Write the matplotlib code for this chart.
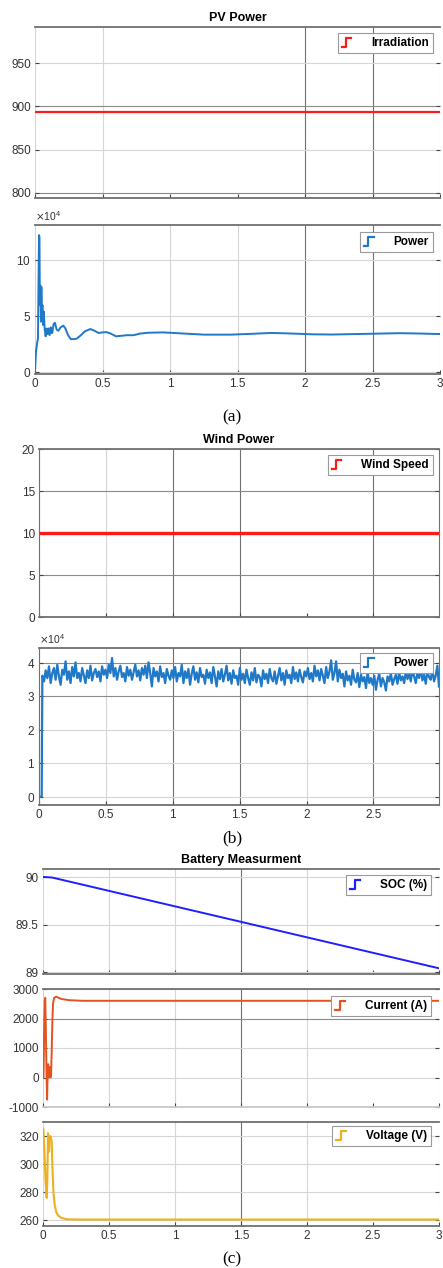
import numpy as np
import matplotlib
matplotlib.use('Agg')
import matplotlib.pyplot as plt
from matplotlib.legend_handler import HandlerBase
from matplotlib.lines import Line2D
from matplotlib.ticker import ScalarFormatter

# ---- data ----
sim_end = 3.0

# (a) PV
irradiation = 894.0
pv_t = [0.0, 0.007, 0.017, 0.022, 0.026, 0.030, 0.033, 0.036, 0.040, 0.044,
        0.047, 0.051, 0.055, 0.060, 0.065, 0.072, 0.079, 0.086, 0.093, 0.100,
        0.108, 0.116, 0.122, 0.128, 0.138, 0.148, 0.160, 0.173, 0.19, 0.21,
        0.225, 0.245, 0.265, 0.29, 0.31, 0.34, 0.37, 0.41, 0.44, 0.47,
        0.50, 0.53, 0.56, 0.60, 0.64, 0.68, 0.73, 0.78, 0.84, 0.95,
        1.1, 1.25, 1.45, 1.6, 1.75, 1.9, 2.05, 2.2, 2.45, 2.7, 2.85, 3.0]
pv_power = [0.0, 1.8, 2.7, 3.0, 8.0, 12.2, 12.0, 6.0, 7.7, 4.5,
            7.6, 5.2, 6.0, 4.2, 5.4, 3.8, 3.2, 3.9, 3.4, 3.9,
            3.3, 4.0, 3.5, 3.5, 4.3, 4.4, 3.8, 3.7, 4.0, 4.15,
            3.9, 3.3, 2.95, 2.95, 3.0, 3.3, 3.65, 3.85, 3.7, 3.5,
            3.55, 3.57, 3.45, 3.2, 3.25, 3.3, 3.3, 3.45, 3.52, 3.55,
            3.45, 3.35, 3.35, 3.42, 3.5, 3.45, 3.38, 3.36, 3.42, 3.48, 3.45, 3.40]  # x1e4 W

# (b) wind
wind_speed = 10.0
wind_start_t = [0.0, 0.02]
wind_start_p = [0.0, 0.0]
wind_power = [
    3.62, 3.45, 3.78, 3.55, 3.90, 3.40, 3.70, 3.85, 3.50, 3.95, 3.60, 3.35, 3.80, 3.65, 4.05, 3.50, 3.75, 3.40, 3.88, 3.60,
    4.02, 3.55, 3.70, 3.45, 3.85, 3.62, 3.40, 3.78, 3.55, 3.92, 3.48, 3.70, 3.82, 3.58, 3.75, 3.45, 3.90, 3.65, 3.80, 3.55,
    3.95, 3.70, 4.15, 3.60, 3.85, 3.50, 3.75, 3.92, 3.58, 3.70, 3.45, 3.88, 3.62, 3.80, 3.50, 3.72, 3.95, 3.60, 3.78, 3.48,
    3.85, 3.65, 3.92, 3.55, 4.02, 3.70, 3.30, 3.85, 3.60, 3.75, 3.45, 3.90, 3.58, 3.70, 3.40, 3.82, 3.62, 3.50, 3.78, 3.55,
    3.88, 3.45, 3.70, 3.60, 3.95, 3.40, 3.75, 3.55, 3.82, 3.35, 3.68, 3.90, 3.50, 3.72, 3.42, 3.85, 3.58, 3.65, 3.38, 3.80,
    3.55, 3.72, 3.40, 3.88, 3.60, 3.30, 3.75, 3.52, 3.82, 3.45, 3.65, 3.92, 3.48, 3.70, 3.38, 3.78, 3.55, 3.62, 3.35, 3.85,
    3.50, 3.68, 3.40, 3.80, 3.55, 3.35, 3.72, 3.48, 3.85, 3.42, 3.65, 3.58, 3.30, 3.78, 3.52, 3.68, 3.40, 3.82, 3.55, 3.45,
    3.75, 3.38, 3.62, 3.85, 3.48, 3.70, 3.35, 3.78, 3.55, 3.65, 3.40, 3.88, 3.52, 3.72, 3.45, 3.80, 3.58, 3.42, 3.75, 3.60,
    3.85, 3.52, 3.70, 3.45, 3.92, 3.60, 3.78, 3.48, 3.82, 3.62, 3.40, 3.88, 3.55, 3.75, 4.08, 3.50, 3.70, 4.05, 3.45, 3.80,
    3.55, 3.68, 3.30, 3.75, 3.48, 3.62, 3.35, 3.80, 3.50, 3.42, 3.70, 3.28, 3.65, 3.45, 3.58, 3.25, 3.72, 3.40, 3.55, 3.35,
    3.62, 3.20, 3.50, 3.68, 3.30, 3.55, 3.42, 3.18, 3.60, 3.45, 3.70, 3.35, 3.52, 3.65, 3.38, 3.72, 3.48, 3.60, 3.40, 3.75,
    3.52, 3.68, 3.45, 3.78, 3.60, 3.40, 3.72, 3.55, 3.82, 3.48, 3.65, 3.38, 3.75, 3.58, 3.50, 3.80, 3.45, 3.62, 3.92, 3.30]  # x1e4 W
wind_t = np.linspace(0.025, 2.99, len(wind_power))

# (c) battery
soc_t = [0.0, 0.02, 0.07, 3.0]
soc = [90.0, 90.0, 89.995, 89.04]
cur_t = [0.0, 0.004, 0.008, 0.013, 0.017, 0.021, 0.026, 0.031, 0.035, 0.039, 0.044, 0.048,
         0.052, 0.057, 0.061, 0.066, 0.071, 0.076, 0.084, 0.10, 0.14, 0.2, 0.3, 3.0]
current = [0, 0, 1400, 2600, 2700, 1800, 300, -750, 100, 450, 0, 300,
           350, 0, 50, 900, 1900, 2500, 2700, 2740, 2660, 2620, 2600, 2600]
volt_t = [0.0, 0.003, 0.010, 0.020, 0.028, 0.033, 0.038, 0.042, 0.046, 0.050, 0.055,
          0.060, 0.066, 0.071, 0.079, 0.089, 0.100, 0.115, 0.14, 0.18, 0.25, 3.0]
voltage = [325, 325, 311, 287, 276, 290, 322, 318, 309, 318, 320,
           319, 316, 299, 280, 270.7, 266, 263.5, 261.7, 260.8, 260.6, 260.6]

x_ticks = [0, 0.5, 1, 1.5, 2, 2.5, 3]

plt.rcParams['font.family'] = ['Liberation Sans', 'DejaVu Sans']
plt.rcParams['axes.unicode_minus'] = False

W, H = 443, 1268
fig = plt.figure(figsize=(W / 100, H / 100), dpi=100)


def axes_at(left, top, right, bottom):
    return fig.add_axes([left / W, 1 - bottom / H, (right - left) / W, (bottom - top) / H])


class StepHandler(HandlerBase):
    # scope-style legend icon: a little rising step
    def create_artists(self, legend, orig, xd, yd, w, h, fontsize, trans):
        xs = [xd, xd + 0.45 * w, xd + 0.45 * w, xd + w]
        ys = [yd - 0.05 * h, yd - 0.05 * h, yd + 1.0 * h, yd + 1.0 * h]
        ln = Line2D(xs, ys, color=orig.get_color(), lw=1.6)
        ln.set_transform(trans)
        return [ln]


def style(ax, box=False, dark_x=(), hide_x=(), dark_y=()):
    ax.set_facecolor('white')
    ax.grid(True, color='#d6d6d6', lw=0.8)
    ax.set_axisbelow(True)
    for xv, gl in zip(ax.get_xticks(), ax.xaxis.get_gridlines()):
        if xv in dark_x:
            gl.set_color('#707070')
        if xv in hide_x:
            gl.set_visible(False)
    for yv, gl in zip(ax.get_yticks(), ax.yaxis.get_gridlines()):
        if yv in dark_y:
            gl.set_color('#8a8a8a')
    for side in ['top', 'bottom']:
        ax.spines[side].set_color('#707070')
        ax.spines[side].set_linewidth(1.3)
    for side in ['left', 'right']:
        ax.spines[side].set_visible(box)
        ax.spines[side].set_color('#707070')
    ax.tick_params(direction='in', length=3, labelsize=8.5, colors='#444444',
                   labelcolor='#333333', right=True, pad=3)


def add_legend(ax, label, xa, ya):
    leg = ax.legend([ax.lines[0]], [label], loc='upper right', bbox_to_anchor=(xa, ya),
                    borderaxespad=0, handler_map={Line2D: StepHandler()},
                    prop={'weight': 'bold', 'size': 8.5}, handlelength=0.8, handletextpad=1.7,
                    borderpad=0.35, fancybox=False, framealpha=1, edgecolor='#9a9a9a')
    leg.get_frame().set_linewidth(0.8)


def sci_axis(ax):
    fmt = ScalarFormatter(useMathText=True)
    fmt.set_powerlimits((4, 4))
    ax.yaxis.set_major_formatter(fmt)
    ax.yaxis.get_offset_text().set_fontsize(7.5)
    ax.yaxis.get_offset_text().set_color('#333333')


# ---------- (a) PV Power ----------
ax1 = axes_at(35, 27, 440, 198)
ax1.plot([0, sim_end], [irradiation, irradiation], color='#ff1a1a', lw=1.6)
ax1.set_xlim(0, 3)
ax1.set_ylim(794, 992)
ax1.set_yticks([800, 850, 900, 950])
ax1.set_xticks(x_ticks)
ax1.set_xticklabels([])
style(ax1, dark_x=(2, 2.5), hide_x=(1, 1.5), dark_y=(800, 900))
ax1.set_title('PV Power', fontsize=9, fontweight='bold', pad=4)
add_legend(ax1, 'Irradiation', 0.983, 0.965)

ax2 = axes_at(35, 225, 440, 374)
ax2.plot(pv_t, np.array(pv_power) * 1e4, color='#1f78c8', lw=1.4)
ax2.set_xlim(0, 3)
ax2.set_ylim(-0.15e4, 13.1e4)
ax2.set_yticks([0, 5e4, 10e4])
ax2.set_xticks(x_ticks)
ax2.set_xticklabels(['0', '0.5', '1', '1.5', '2', '2.5', '3'])
style(ax2, dark_x=(2, 2.5))
sci_axis(ax2)
add_legend(ax2, 'Power', 0.983, 0.953)
fig.text(232 / W, 1 - 417 / H, '(a)', ha='center', va='center', fontsize=12.5,
         family=['Liberation Serif', 'DejaVu Serif'])

# ---------- (b) Wind Power ----------
ax3 = axes_at(39, 449, 439, 617)
ax3.plot([0, sim_end], [wind_speed, wind_speed], color='#ff1a1a', lw=2.4)
ax3.set_xlim(0, 2.99)
ax3.set_ylim(0, 20)
ax3.set_yticks([0, 5, 10, 15, 20])
ax3.set_xticks(x_ticks[:-1])
ax3.set_xticklabels([])
style(ax3, box=True, dark_x=(1, 1.5, 2.5), hide_x=(2,), dark_y=(5, 15))
ax3.set_title('Wind Power', fontsize=9, fontweight='bold', pad=4)
add_legend(ax3, 'Wind Speed', 0.985, 0.964)

ax4 = axes_at(39, 648, 439, 805)
ax4.plot(np.concatenate([wind_start_t, wind_t]),
         np.concatenate([wind_start_p, wind_power]) * 1e4, color='#1f78c8', lw=1.6)
ax4.set_xlim(0, 2.99)
ax4.set_ylim(-0.25e4, 4.45e4)
ax4.set_yticks([0, 1e4, 2e4, 3e4, 4e4])
ax4.set_xticks(x_ticks[:-1])
ax4.set_xticklabels(['0', '0.5', '1', '1.5', '2', '2.5'])
style(ax4, box=True, dark_x=(1, 1.5, 2.5), dark_y=(3e4, 4e4))
sci_axis(ax4)
add_legend(ax4, 'Power', 0.985, 0.968)
fig.text(232 / W, 1 - 838 / H, '(b)', ha='center', va='center', fontsize=12.5,
         family=['Liberation Serif', 'DejaVu Serif'])

# ---------- (c) Battery ----------
ax5 = axes_at(43, 869, 439, 974)
ax5.plot(soc_t, soc, color='#1f1fff', lw=1.4)
ax5.set_xlim(0, 3)
ax5.set_ylim(88.98, 90.085)
ax5.set_yticks([89, 89.5, 90])
ax5.set_yticklabels(['89', '89.5', '90'])
ax5.set_xticks(x_ticks)
ax5.set_xticklabels([])
style(ax5, dark_x=(1.5,), hide_x=(2.5,))
ax5.set_title('Battery Measurment', fontsize=9, fontweight='bold', pad=4)
add_legend(ax5, 'SOC (%)', 0.98, 0.943)

ax6 = axes_at(43, 989, 439, 1107)
ax6.plot(cur_t, current, color='#e2531e', lw=1.4)
ax6.set_xlim(0, 3)
ax6.set_ylim(-1000, 3000)
ax6.set_yticks([-1000, 0, 1000, 2000, 3000])
ax6.set_xticks(x_ticks)
ax6.set_xticklabels([])
style(ax6, dark_x=(1.5,), hide_x=(2.5,), dark_y=(2000,))
ax6.spines['bottom'].set_color('#c8c8c8')
add_legend(ax6, 'Current (A)', 0.98, 0.94)

ax7 = axes_at(43, 1122, 439, 1226)
ax7.plot(volt_t, voltage, color='#edb120', lw=1.5)
ax7.set_xlim(0, 3)
ax7.set_ylim(256, 330)
ax7.set_yticks([260, 280, 300, 320])
ax7.set_xticks(x_ticks)
ax7.set_xticklabels(['0', '0.5', '1', '1.5', '2', '2.5', '3'])
style(ax7, dark_x=(1.5,), hide_x=(2.5,))
add_legend(ax7, 'Voltage (V)', 0.98, 0.96)
fig.text(232 / W, 1 - 1259 / H, '(c)', ha='center', va='center', fontsize=12.5,
         family=['Liberation Serif', 'DejaVu Serif'])

fig.savefig('out.png', dpi=100)
